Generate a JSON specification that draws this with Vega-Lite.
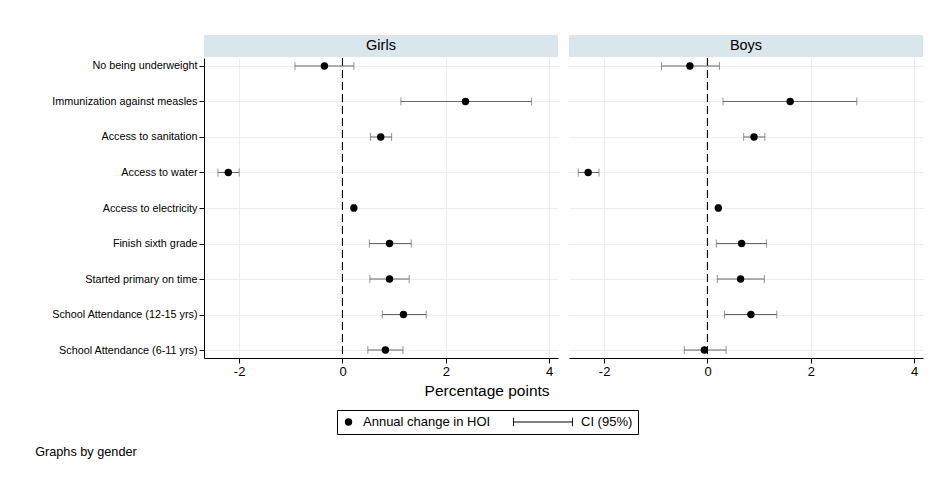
{
  "$schema": "https://vega.github.io/schema/vega-lite/v6.json",
  "padding": {"left": 35, "top": 35, "right": 5, "bottom": 5},
  "background": "white",
  "datasets": {
    "hoi": [
      {"gender": "Girls", "item": "No being underweight", "est": -0.35, "lo": -0.92, "hi": 0.22},
      {"gender": "Girls", "item": "Immunization against measles", "est": 2.38, "lo": 1.13, "hi": 3.66},
      {"gender": "Girls", "item": "Access to sanitation", "est": 0.74, "lo": 0.54, "hi": 0.95},
      {"gender": "Girls", "item": "Access to water", "est": -2.21, "lo": -2.41, "hi": -2.0},
      {"gender": "Girls", "item": "Access to electricity", "est": 0.22, "lo": 0.19, "hi": 0.25},
      {"gender": "Girls", "item": "Finish sixth grade", "est": 0.91, "lo": 0.52, "hi": 1.33},
      {"gender": "Girls", "item": "Started primary on time", "est": 0.91, "lo": 0.53, "hi": 1.29},
      {"gender": "Girls", "item": "School Attendance (12-15 yrs)", "est": 1.18, "lo": 0.77, "hi": 1.62},
      {"gender": "Girls", "item": "School Attendance (6-11 yrs)", "est": 0.83, "lo": 0.49, "hi": 1.17},
      {"gender": "Boys", "item": "No being underweight", "est": -0.34, "lo": -0.89, "hi": 0.23},
      {"gender": "Boys", "item": "Immunization against measles", "est": 1.6, "lo": 0.3, "hi": 2.89},
      {"gender": "Boys", "item": "Access to sanitation", "est": 0.9, "lo": 0.7, "hi": 1.11},
      {"gender": "Boys", "item": "Access to water", "est": -2.31, "lo": -2.5, "hi": -2.1},
      {"gender": "Boys", "item": "Access to electricity", "est": 0.21, "lo": 0.18, "hi": 0.24},
      {"gender": "Boys", "item": "Finish sixth grade", "est": 0.66, "lo": 0.17, "hi": 1.14},
      {"gender": "Boys", "item": "Started primary on time", "est": 0.64, "lo": 0.19, "hi": 1.1},
      {"gender": "Boys", "item": "School Attendance (12-15 yrs)", "est": 0.84, "lo": 0.33, "hi": 1.34},
      {"gender": "Boys", "item": "School Attendance (6-11 yrs)", "est": -0.06, "lo": -0.45, "hi": 0.36}
    ]
  },
  "title": {"text": "Graphs by gender", "orient": "bottom", "anchor": "start", "fontSize": 12.7, "fontWeight": "normal", "offset": 11, "dx": -16, "color": "black"},
  "vconcat": [
    {
      "title": {"text": "Percentage points", "orient": "bottom", "anchor": "middle", "fontSize": 15.5, "fontWeight": "normal", "offset": 6, "color": "black"},
      "spacing": 11,
      "hconcat": [
        {
          "spacing": 0,
          "vconcat": [
            {
              "width": 354, "height": 22,
              "view": {"fill": "#d9e6ec", "stroke": null},
              "data": {"values": [{"g": "Girls"}]},
              "mark": {"type": "text", "fontSize": 14.5, "fontWeight": "normal", "color": "black", "baseline": "middle"},
              "encoding": {"text": {"field": "g"}}
            },
            {
              "width": 354, "height": 300,
              "view": {"stroke": null},
              "data": {"name": "hoi"},
              "transform": [{"filter": "datum.gender === 'Girls'"}],
              "encoding": {
                "y": {"field": "item", "type": "nominal", "sort": null,
                  "scale": {"type": "point", "padding": 0.225, "domain": ["No being underweight", "Immunization against measles", "Access to sanitation", "Access to water", "Access to electricity", "Finish sixth grade", "Started primary on time", "School Attendance (12-15 yrs)", "School Attendance (6-11 yrs)"]},
                  "axis": {"title": null, "labelFontSize": 10.8, "labelColor": "black", "tickSize": 5, "tickColor": "black", "domainColor": "black", "labelPadding": 2, "grid": true, "gridColor": "#e8eff2"}}
              },
              "layer": [
                {"mark": {"type": "rule", "color": "black", "strokeDash": [8, 4], "strokeWidth": 1},
                 "encoding": {"x": {"datum": 0, "type": "quantitative", "scale": {"domain": [-2.68, 4.17], "nice": false, "zero": false},
                   "axis": {"title": null, "values": [-2, 0, 2, 4], "labelExpr": "'' + datum.value", "labelFontSize": 13, "labelColor": "black", "tickSize": 5, "tickColor": "black", "domainColor": "black", "grid": true, "gridColor": "#e8eff2", "labelPadding": 2}}, "y": null}},
                {"mark": {"type": "rule", "color": "#666666", "strokeWidth": 1},
                 "encoding": {"x": {"field": "lo", "type": "quantitative"}, "x2": {"field": "hi"}}},
                {"mark": {"type": "tick", "color": "#666666", "thickness": 1, "size": 8, "orient": "vertical"},
                 "encoding": {"x": {"field": "lo", "type": "quantitative"}}},
                {"mark": {"type": "tick", "color": "#666666", "thickness": 1, "size": 8, "orient": "vertical"},
                 "encoding": {"x": {"field": "hi", "type": "quantitative"}}},
                {"mark": {"type": "point", "filled": true, "color": "black", "opacity": 1},
                 "encoding": {
                   "x": {"field": "est", "type": "quantitative"},
                   "shape": {"datum": "Annual change in HOI", "type": "nominal", "scale": {"domain": ["Annual change in HOI", "CI (95%)"], "range": ["circle", "M-1,-0.02H1V0.02H-1Z M-1,-0.14H-0.97V0.14H-1Z M0.97,-0.14H1V0.14H0.97Z"]}, "legend": {"title": null}},
                   "size": {"datum": "Annual change in HOI", "type": "nominal", "scale": {"type": "ordinal", "domain": ["Annual change in HOI", "CI (95%)"], "range": [55, 3600]}, "legend": {"title": null}}
                 }}
              ]
            }
          ]
        },
        {
          "spacing": 0,
          "vconcat": [
            {
              "width": 354, "height": 22,
              "view": {"fill": "#d9e6ec", "stroke": null},
              "data": {"values": [{"g": "Boys"}]},
              "mark": {"type": "text", "fontSize": 14.5, "fontWeight": "normal", "color": "black", "baseline": "middle"},
              "encoding": {"text": {"field": "g"}}
            },
            {
              "width": 354, "height": 300,
              "view": {"stroke": null},
              "data": {"name": "hoi"},
              "transform": [{"filter": "datum.gender === 'Boys'"}],
              "encoding": {
                "y": {"field": "item", "type": "nominal", "sort": null,
                  "scale": {"type": "point", "padding": 0.225, "domain": ["No being underweight", "Immunization against measles", "Access to sanitation", "Access to water", "Access to electricity", "Finish sixth grade", "Started primary on time", "School Attendance (12-15 yrs)", "School Attendance (6-11 yrs)"]},
                  "axis": {"title": null, "labels": false, "ticks": false, "domain": false, "grid": true, "gridColor": "#e8eff2"}}
              },
              "layer": [
                {"mark": {"type": "rule", "color": "black", "strokeDash": [8, 4], "strokeWidth": 1},
                 "encoding": {"x": {"datum": 0, "type": "quantitative", "scale": {"domain": [-2.68, 4.17], "nice": false, "zero": false},
                   "axis": {"title": null, "values": [-2, 0, 2, 4], "labelExpr": "'' + datum.value", "labelFontSize": 13, "labelColor": "black", "tickSize": 5, "tickColor": "black", "domainColor": "black", "grid": true, "gridColor": "#e8eff2", "labelPadding": 2}}, "y": null}},
                {"mark": {"type": "rule", "color": "#666666", "strokeWidth": 1},
                 "encoding": {"x": {"field": "lo", "type": "quantitative"}, "x2": {"field": "hi"}}},
                {"mark": {"type": "tick", "color": "#666666", "thickness": 1, "size": 8, "orient": "vertical"},
                 "encoding": {"x": {"field": "lo", "type": "quantitative"}}},
                {"mark": {"type": "tick", "color": "#666666", "thickness": 1, "size": 8, "orient": "vertical"},
                 "encoding": {"x": {"field": "hi", "type": "quantitative"}}},
                {"mark": {"type": "point", "filled": true, "color": "black", "opacity": 1},
                 "encoding": {
                   "x": {"field": "est", "type": "quantitative"},
                   "shape": {"datum": "Annual change in HOI", "type": "nominal", "scale": {"domain": ["Annual change in HOI", "CI (95%)"], "range": ["circle", "M-1,-0.02H1V0.02H-1Z M-1,-0.14H-0.97V0.14H-1Z M0.97,-0.14H1V0.14H0.97Z"]}, "legend": {"title": null}},
                   "size": {"datum": "Annual change in HOI", "type": "nominal", "scale": {"type": "ordinal", "domain": ["Annual change in HOI", "CI (95%)"], "range": [55, 3600]}, "legend": {"title": null}}
                 }}
              ]
            }
          ]
        }
      ]
    }
  ],
  "config": {
    "font": "Liberation Sans",
    "view": {"stroke": null},
    "axis": {"labelFont": "Liberation Sans"},
    "legend": {
      "orient": "bottom", "direction": "horizontal", "strokeColor": "black", "padding": 5,
      "labelFontSize": 13, "labelColor": "black", "columnPadding": 22, "labelOffset": 8,
      "offset": 10, "symbolFillColor": "black", "symbolStrokeWidth": 0, "clipHeight": 14,
      "layout": {"bottom": {"anchor": "middle"}}
    }
  }
}
